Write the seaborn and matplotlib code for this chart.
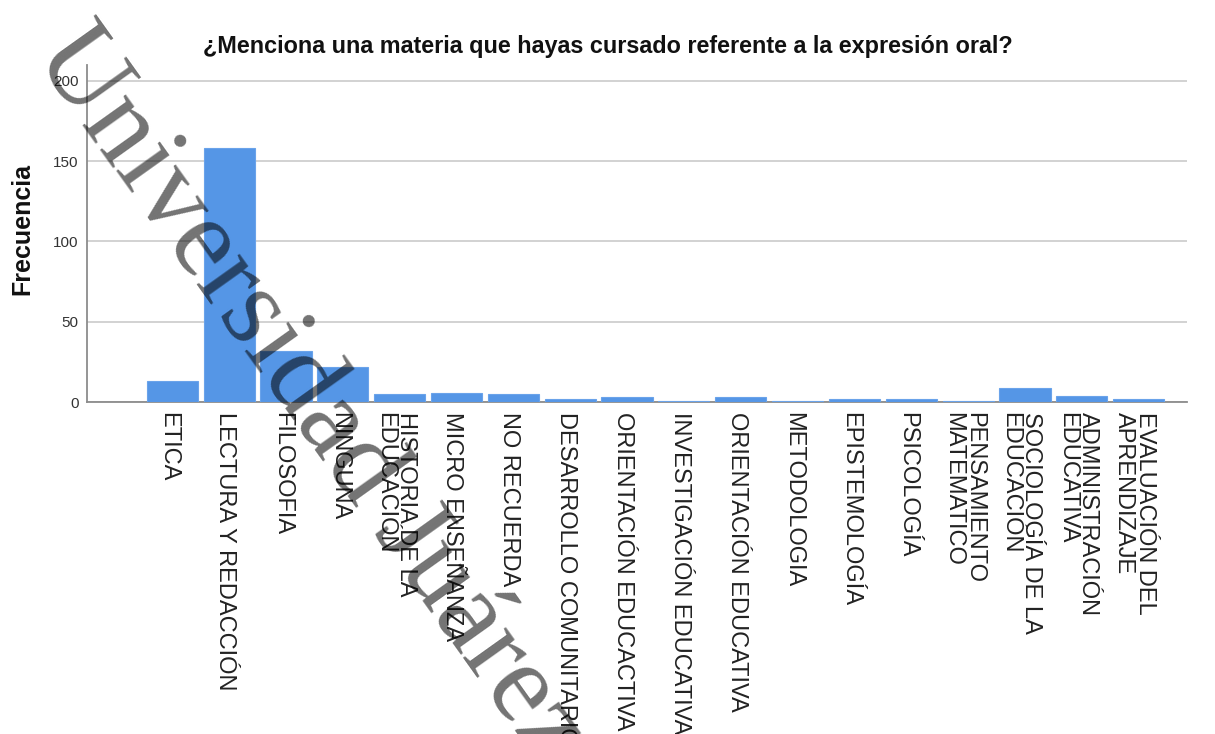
import matplotlib
matplotlib.use("Agg")
import matplotlib.pyplot as plt
import matplotlib.transforms as mtransforms
import seaborn as sns
import pandas as pd

# Datos
materias = [
    "ETICA", "LECTURA Y REDACCIÓN", "FILOSOFIA", "NINGUNA",
    "HISTORIA DE LA\nEDUCACIÓN", "MICRO ENSEÑANZA", "NO RECUERDA",
    "DESARROLLO COMUNITARIO", "ORIENTACIÓN EDUCACTIVA",
    "INVESTIGACIÓN EDUCATIVA", "ORIENTACIÓN EDUCATIVA", "METODOLOGIA",
    "EPISTEMOLOGÍA", "PSICOLOGÍA", "PENSAMIENTO\nMATEMATICO",
    "SOCIOLOGÍA DE LA\nEDUCACIÓN", "ADMINISTRACIÓN\nEDUCATIVA",
    "EVALUACIÓN DEL\nAPRENDIZAJE",
]
frecuencias = [13, 158, 32, 22, 5, 6, 5, 2, 3, 1, 3, 1, 2, 2, 1, 9, 4, 2]
y_ticks = [0, 50, 100, 150, 200]

titulo = "¿Menciona una materia que hayas cursado referente a la expresión oral?"
marca_agua = "Universidad Juárez"

df = pd.DataFrame({"materia": materias, "frecuencia": frecuencias})

sns.set_style("white")
plt.rcParams["font.family"] = ["Liberation Sans", "DejaVu Sans"]

W, H = 1215, 734
fig = plt.figure(figsize=(W / 100, H / 100), dpi=100)
ax = fig.add_axes([87 / W, 1 - 402.3 / H, 1100 / W, 337.7 / H])

sns.barplot(data=df, x="materia", y="frecuencia", color="#5596e6",
            saturation=1, width=0.9, edgecolor="#6aa3ea", linewidth=0.8,
            ax=ax, zorder=5)

ax.set_ylim(0, 210)
ax.set_xlim(-1.5, 17.85)
ax.set_yticks(y_ticks)
ax.set_yticklabels([str(t) for t in y_ticks], fontsize=11, color="#333333")
ax.yaxis.grid(True, color="#d2d2d2", linewidth=1.4, zorder=0)
ax.set_axisbelow(True)
ax.tick_params(axis="y", length=0, pad=6)
ax.tick_params(axis="x", length=0, pad=7)
ax.set_xlabel("")
ax.set_ylabel("")

# pequeño corrimiento a la izquierda de las etiquetas rotadas
desplaza = mtransforms.ScaledTranslation(-3 / 72, 0, fig.dpi_scale_trans)
for lbl in ax.get_xticklabels():
    lbl.set_rotation(270)
    lbl.set_fontsize(17)
    lbl.set_ha("center")
    lbl.set_va("top")
    lbl.set_multialignment("left")
    lbl.set_linespacing(0.95)
    lbl.set_color("#222222")
    lbl.set_transform(lbl.get_transform() + desplaza)

for s in ["top", "right"]:
    ax.spines[s].set_visible(False)
for s in ["left", "bottom"]:
    ax.spines[s].set_color("#8c8c8c")
    ax.spines[s].set_linewidth(1.3)
    ax.spines[s].set_zorder(1)

fig.text(0.5, 1 - 47 / H, titulo, ha="center", va="center",
         fontsize=16.8, fontweight="bold", color="#111111")
fig.text(22 / W, 1 - 229 / H, "Frecuencia", ha="center", va="center",
         rotation=90, fontsize=18, fontweight="bold", color="#111111")

# marca de agua diagonal
fig.text(33 / W, 1 - 55 / H, marca_agua, rotation=-54.5, rotation_mode="anchor",
         ha="left", va="baseline", fontsize=82, family="Liberation Serif",
         color="black", alpha=0.55, zorder=10)

fig.savefig("out.png", dpi=100)
